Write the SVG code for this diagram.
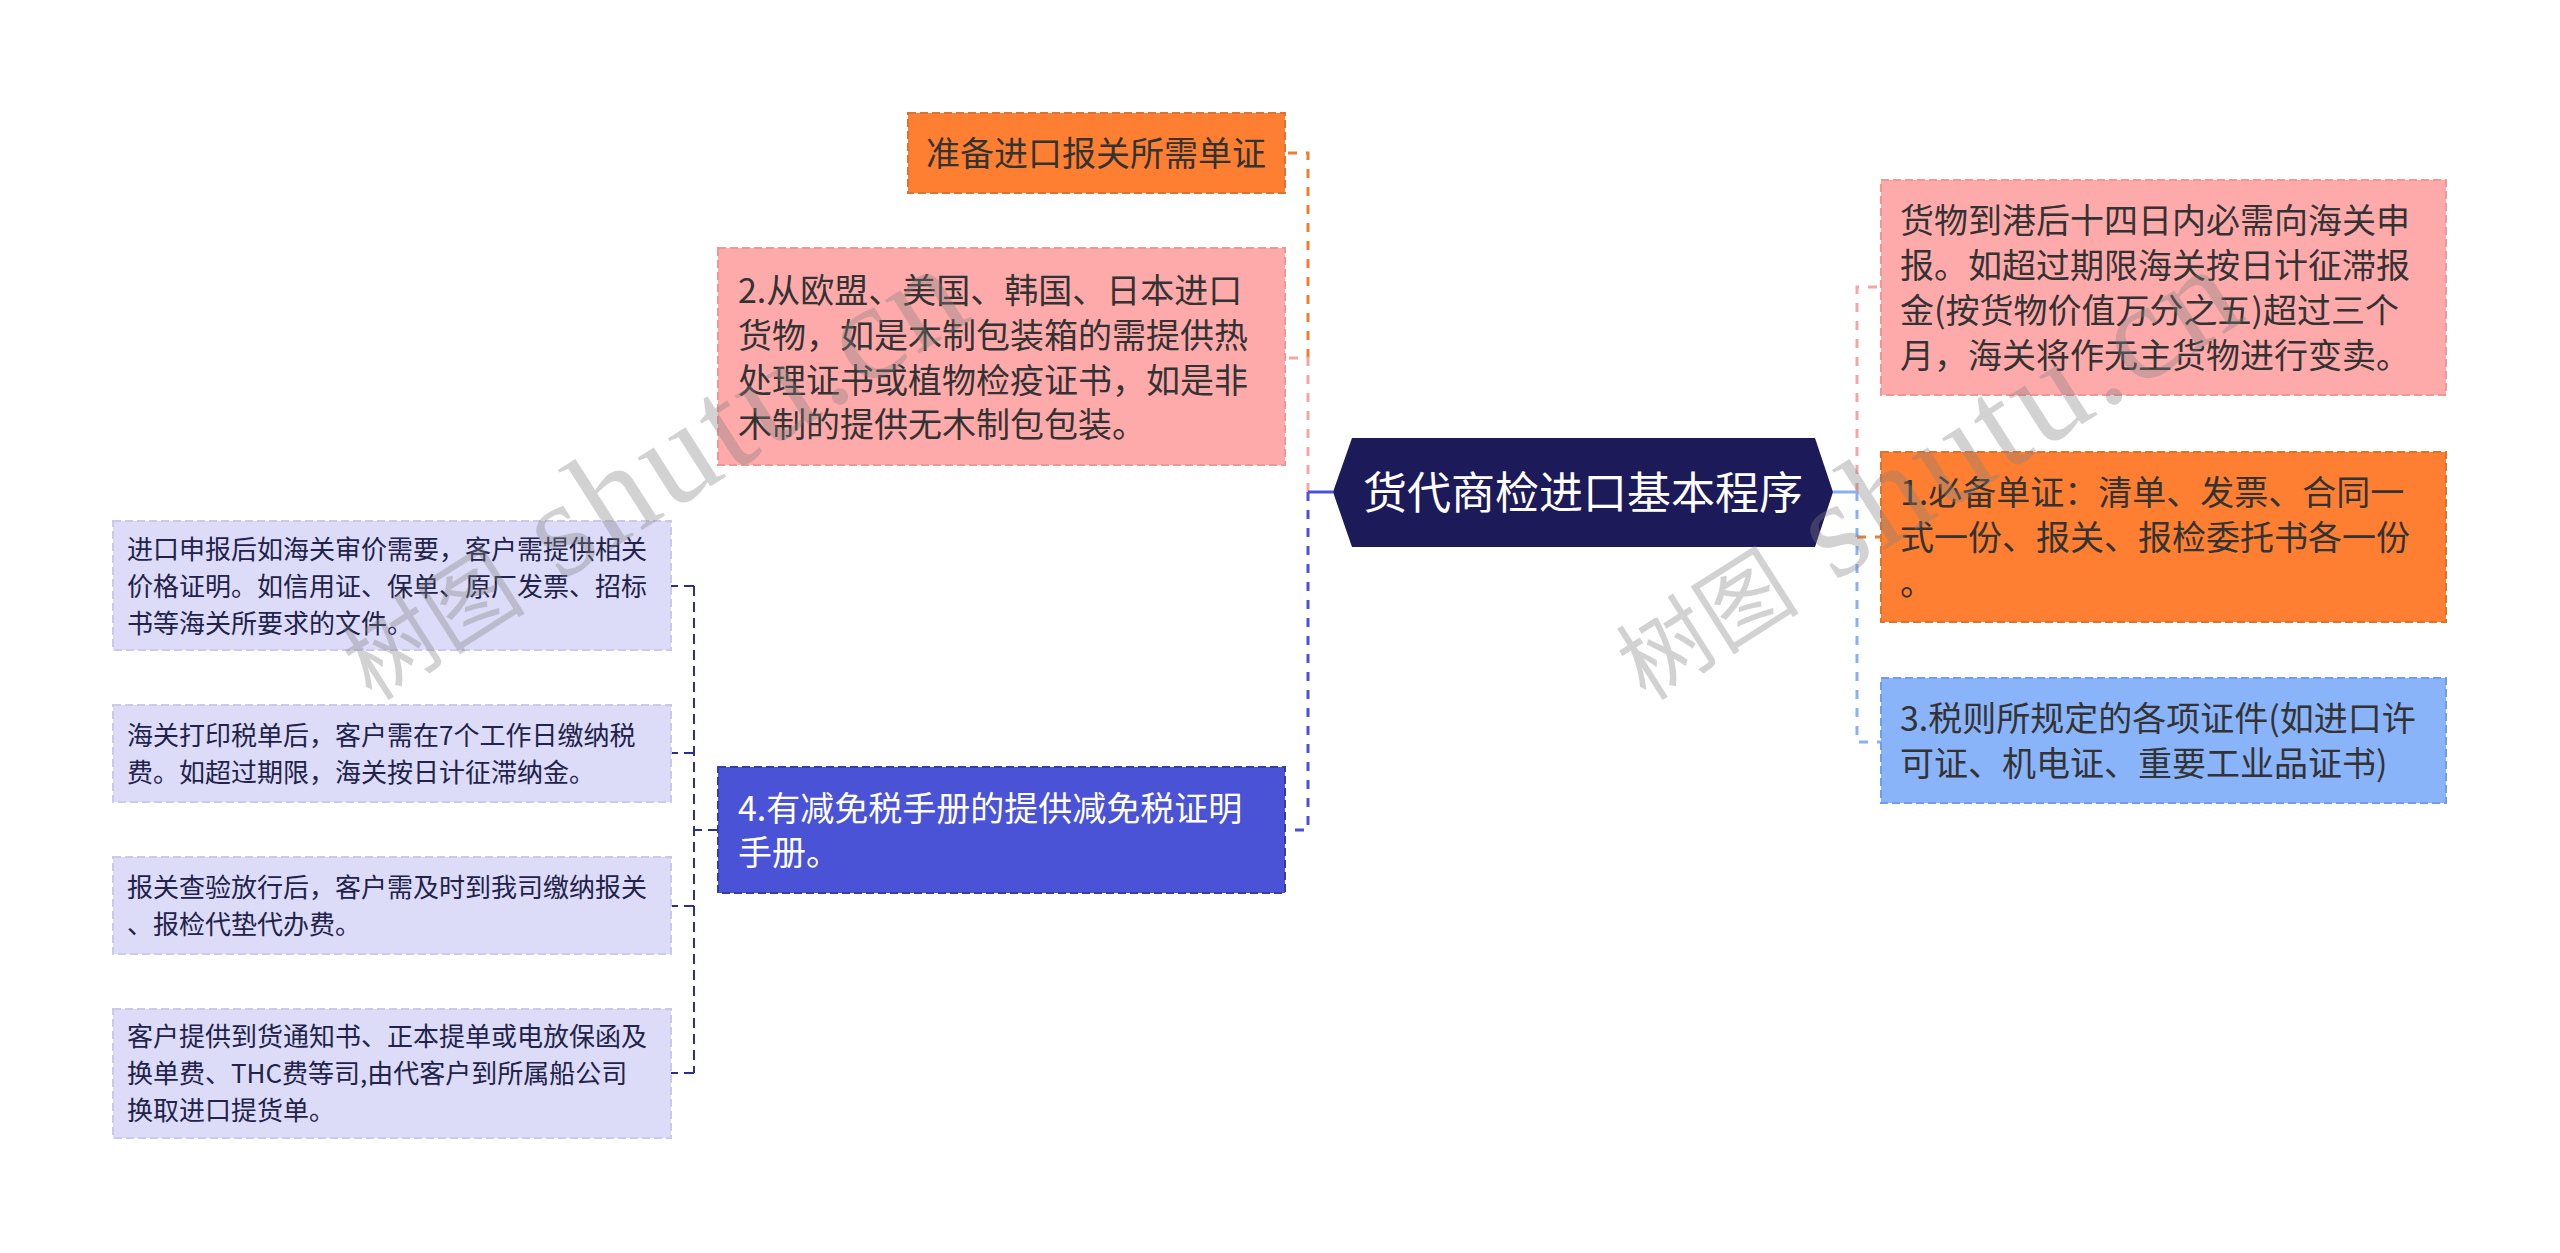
<svg xmlns="http://www.w3.org/2000/svg" width="2560" height="1253" viewBox="0 0 2560 1253">
<style>
.t{font-family:"Noto Sans CJK SC","Noto Sans",sans-serif;}
.l1{font-size:34px;fill:#333333;}
.l2{font-size:26px;fill:#22224a;}
.w{fill:#ffffff;}
.nb{stroke-width:2;stroke-dasharray:8 4;}
.c{fill:none;stroke-width:3;stroke-dasharray:9 9;}
.cs{fill:none;stroke-width:2;stroke-dasharray:10 6;stroke:#2b2f8f;}
.wm{font-family:"Liberation Serif","Noto Sans CJK SC",serif;font-size:92px;fill:#808080;opacity:0.35;}
.wl{font-size:138px;letter-spacing:4px;}
</style>
<rect width="2560" height="1253" fill="#ffffff"/>
<g id="connectors">
  <path class="c" stroke="#ed7d31" d="M1308,358 V153 H1285"/>
  <path class="c" stroke="#f4a6a6" d="M1308,492 V358 H1285"/>
  <path class="c" stroke="#4a52d6" d="M1308,492 V830 H1285"/>
  <path fill="none" stroke="#4a52d6" stroke-width="3" d="M1333,492 H1308"/>
  <path class="c" stroke="#f4a6a6" d="M1857,492 V287 H1881"/>
  <path class="c" stroke="#ed7d31" d="M1857,537 H1881"/>
  <path class="c" stroke="#8ab0f4" d="M1857,492 V742 H1881"/>
  <path fill="none" stroke="#8ab0f4" stroke-width="3" d="M1833,492 H1857"/>
  <path class="cs" d="M718,830 H694 M694,586 V1073 M694,586 H671 M694,753 H671 M694,906 H671 M694,1073 H671"/>
</g>
<g id="root">
  <polygon points="1333,492 1352,438 1815,438 1833,492 1815,547 1352,547" fill="#1d1a5a"/>
  <text class="t w" x="1583" y="509" font-size="44" text-anchor="middle">货代商检进口基本程序</text>
</g>
<g id="n-prepare">
  <rect class="nb" x="908" y="113" width="377" height="80" fill="#fe7f31" stroke="#e0702a"/>
  <text class="t l1" x="926" y="166">准备进口报关所需单证</text>
</g>
<g id="n-2">
  <rect class="nb" x="718" y="248" width="567" height="217" fill="#ffaaaa" stroke="#f29595"/>
  <text class="t l1" x="738" y="303">2.从欧盟、美国、韩国、日本进口</text>
  <text class="t l1" x="738" y="348">货物，如是木制包装箱的需提供热</text>
  <text class="t l1" x="738" y="393">处理证书或植物检疫证书，如是非</text>
  <text class="t l1" x="738" y="437">木制的提供无木制包包装。</text>
</g>
<g id="n-4">
  <rect class="nb" x="718" y="767" width="567" height="126" fill="#4a52d6" stroke="#363cab"/>
  <text class="t l1 w" x="738" y="821">4.有减免税手册的提供减免税证明</text>
  <text class="t l1 w" x="738" y="865">手册。</text>
</g>
<g id="n-4a">
  <rect class="nb" x="113" y="521" width="558" height="129" fill="#dcdcf8" stroke="#c9c9ef"/>
  <text class="t l2" x="127" y="559">进口申报后如海关审价需要，客户需提供相关</text>
  <text class="t l2" x="127" y="596">价格证明。如信用证、保单、原厂发票、招标</text>
  <text class="t l2" x="127" y="633">书等海关所要求的文件。</text>
</g>
<g id="n-4b">
  <rect class="nb" x="113" y="705" width="558" height="97" fill="#dcdcf8" stroke="#c9c9ef"/>
  <text class="t l2" x="127" y="745">海关打印税单后，客户需在7个工作日缴纳税</text>
  <text class="t l2" x="127" y="782">费。如超过期限，海关按日计征滞纳金。</text>
</g>
<g id="n-4c">
  <rect class="nb" x="113" y="857" width="558" height="97" fill="#dcdcf8" stroke="#c9c9ef"/>
  <text class="t l2" x="127" y="897">报关查验放行后，客户需及时到我司缴纳报关</text>
  <text class="t l2" x="127" y="934">、报检代垫代办费。</text>
</g>
<g id="n-4d">
  <rect class="nb" x="113" y="1009" width="558" height="129" fill="#dcdcf8" stroke="#c9c9ef"/>
  <text class="t l2" x="127" y="1046">客户提供到货通知书、正本提单或电放保函及</text>
  <text class="t l2" x="127" y="1083">换单费、THC费等司,由代客户到所属船公司</text>
  <text class="t l2" x="127" y="1120">换取进口提货单。</text>
</g>
<g id="n-arrive">
  <rect class="nb" x="1881" y="180" width="565" height="215" fill="#ffaaaa" stroke="#f29595"/>
  <text class="t l1" x="1900" y="233">货物到港后十四日内必需向海关申</text>
  <text class="t l1" x="1900" y="278">报。如超过期限海关按日计征滞报</text>
  <text class="t l1" x="1900" y="323">金(按货物价值万分之五)超过三个</text>
  <text class="t l1" x="1900" y="368">月，海关将作无主货物进行变卖。</text>
</g>
<g id="n-1">
  <rect class="nb" x="1881" y="452" width="565" height="170" fill="#fe7f31" stroke="#e0702a"/>
  <text class="t l1" x="1900" y="505">1.必备单证：清单、发票、合同一</text>
  <text class="t l1" x="1900" y="550">式一份、报关、报检委托书各一份</text>
  <text class="t l1" x="1900" y="595">。</text>
</g>
<g id="n-3">
  <rect class="nb" x="1881" y="678" width="565" height="125" fill="#8ab4fa" stroke="#6f9cf0"/>
  <text class="t l1" x="1900" y="731">3.税则所规定的各项证件(如进口许</text>
  <text class="t l1" x="1900" y="776">可证、机电证、重要工业品证书)</text>
</g>
<g id="watermarks">
  <text class="wm" transform="translate(372,702) rotate(-32.5)">树图<tspan class="wl"> shutu.cn</tspan></text>
  <text class="wm" transform="translate(1646,702) rotate(-32.5)">树图<tspan class="wl"> shutu.cn</tspan></text>
</g>
</svg>
